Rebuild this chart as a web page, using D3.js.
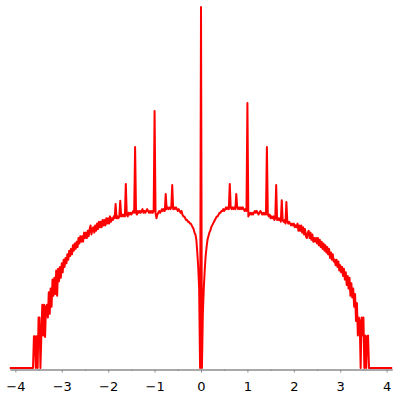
<!DOCTYPE html>
<html>
<head>
<meta charset="utf-8">
<script src="https://cdn.jsdelivr.net/npm/d3@7"></script>
<style>
  html, body { margin: 0; padding: 0; background: #fff; }
  svg { display: block; }
</style>
</head>
<body>
<svg id="chart" width="400" height="400"></svg>
<script>
// Histogram of values: bins start at binStart, spaced binWidth apart
const binStart = -4.12;
const binWidth = 0.02;
const density = [
  0,0,0,0,0,0,0,0,0,0,
  0,0,0,0,0,0,0,0,0,0,
  0,0,0,0,0,0,0.088,0.088,0,0.088,
  0,0.14,0.14,0,0.09,0.175,0.09,0.175,0.086,0.17,
  0.175,0.14,0.21,0.15,0.22,0.17,0.245,0.20,0.25,0.205,
  0.27,0.20,0.275,0.24,0.28,0.25,0.29,0.265,0.30,0.28,
  0.305,0.29,0.315,0.30,0.325,0.31,0.33,0.315,0.34,0.325,
  0.345,0.33,0.35,0.335,0.36,0.345,0.365,0.35,0.365,0.35,
  0.375,0.36,0.375,0.36,0.38,0.365,0.385,0.395,0.37,0.385,
  0.39,0.375,0.395,0.38,0.40,0.385,0.405,0.39,0.405,0.39,
  0.41,0.395,0.41,0.395,0.415,0.40,0.415,0.40,0.42,0.405,
  0.415,0.41,0.42,0.415,0.454,0.415,0.42,0.415,0.42,0.463,
  0.42,0.425,0.42,0.425,0.42,0.51,0.425,0.42,0.43,0.425,
  0.43,0.425,0.43,0.435,0.43,0.612,0.43,0.425,0.435,0.43,
  0.435,0.43,0.435,0.44,0.43,0.435,0.43,0.435,0.44,0.435,
  0.43,0.435,0.43,0.435,0.43,0.435,0.712,0.43,0.415,0.425,
  0.43,0.435,0.43,0.435,0.44,0.435,0.44,0.435,0.482,0.44,
  0.445,0.44,0.445,0.44,0.445,0.507,0.44,0.445,0.44,0.445,
  0.44,0.435,0.44,0.435,0.43,0.435,0.425,0.42,0.42,0.415,
  0.41,0.41,0.405,0.405,0.40,0.40,0.395,0.39,0.385,0.375,
  0.37,0.355,0.32,0.28,0.22,0,1.0,0,0.15,0.22,
  0.27,0.31,0.335,0.355,0.365,0.375,0.38,0.39,0.395,0.40,
  0.405,0.41,0.415,0.42,0.42,0.425,0.43,0.43,0.435,0.435,
  0.44,0.435,0.44,0.445,0.44,0.445,0.44,0.51,0.445,0.44,
  0.445,0.44,0.445,0.44,0.482,0.445,0.44,0.445,0.44,0.445,
  0.44,0.445,0.44,0.435,0.44,0.435,0.734,0.42,0.425,0.43,
  0.425,0.43,0.425,0.43,0.435,0.43,0.435,0.43,0.425,0.43,
  0.435,0.43,0.425,0.43,0.425,0.43,0.425,0.612,0.425,0.42,
  0.425,0.415,0.42,0.415,0.42,0.41,0.415,0.507,0.41,0.415,
  0.41,0.415,0.405,0.465,0.41,0.405,0.41,0.40,0.46,0.405,
  0.40,0.405,0.40,0.395,0.40,0.395,0.40,0.39,0.395,0.39,
  0.40,0.38,0.395,0.38,0.395,0.375,0.39,0.37,0.385,0.365,
  0.36,0.375,0.38,0.36,0.375,0.355,0.37,0.35,0.36,0.35,
  0.36,0.345,0.36,0.34,0.355,0.335,0.35,0.33,0.345,0.325,
  0.34,0.32,0.335,0.315,0.33,0.305,0.32,0.30,0.315,0.295,
  0.30,0.285,0.30,0.28,0.295,0.27,0.285,0.265,0.28,0.255,
  0.275,0.245,0.265,0.23,0.255,0.22,0.25,0.20,0.235,0.195,
  0.22,0.17,0.205,0.13,0.18,0.09,0.14,0.13,0,0.14,
  0.09,0.14,0,0.09,0,0.088,0.09,0,0,0,
  0,0,0,0,0,0,0,0,0,0,
  0,0,0,0,0,0,0,0,0,0,
  0,0,0
];
const majorTicks = [-4, -3, -2, -1, 0, 1, 2, 3, 4];
const minorTicks = [-3.5, -2.5, -1.5, -0.5, 0.5, 1.5, 2.5, 3.5];
const xDomain = [-4.12, 4.12];
const yDomain = [0, 1];

const points = density.map((d, i) => ({ x: binStart + i * binWidth, y: d }));

const svg = d3.select("#chart");
const x = d3.scaleLinear().domain(xDomain).range([9.8, 392.2]);
const y = d3.scaleLinear().domain(yDomain).range([368, 7]);
const axisY = 369.5;

// minor ticks
const gMinor = svg.append("g").attr("transform", `translate(0,${axisY})`)
  .call(d3.axisBottom(x).tickValues(minorTicks).tickSize(1.5).tickFormat(""));
gMinor.select(".domain").remove();
gMinor.selectAll("line").attr("stroke", "#8c8c8c");

// major axis
const gAxis = svg.append("g").attr("transform", `translate(0,${axisY})`)
  .call(d3.axisBottom(x).tickValues(majorTicks).tickSize(3).tickSizeOuter(0).tickPadding(9));
gAxis.select(".domain").attr("stroke", "#8c8c8c").attr("stroke-width", 1.5);
gAxis.selectAll(".tick line").attr("stroke", "#8c8c8c");
gAxis.selectAll("text")
  .attr("fill", "#000")
  .style("font-family", "'DejaVu Sans', sans-serif")
  .style("font-size", "13px");

// data line
const line = d3.line().x(d => x(d.x)).y(d => y(d.y));
svg.append("path")
  .datum(points)
  .attr("fill", "none")
  .attr("stroke", "#ff0000")
  .attr("stroke-width", 2)
  .attr("stroke-linejoin", "round")
  .attr("d", line);
</script>
</body>
</html>
